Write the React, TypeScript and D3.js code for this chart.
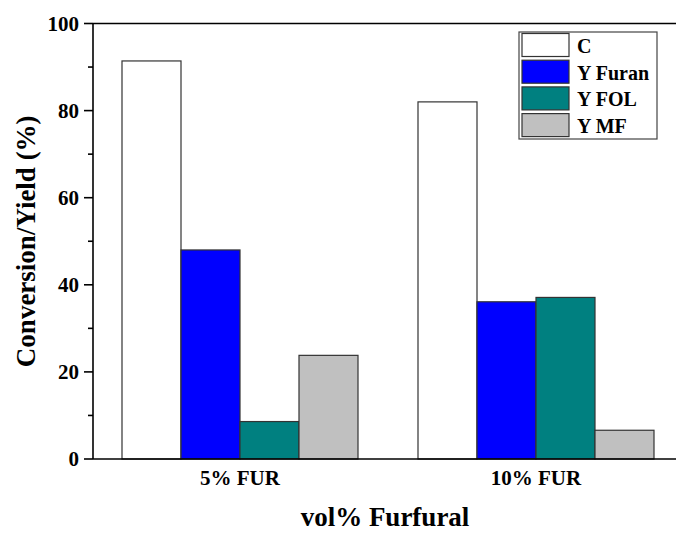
import React, { useEffect, useRef } from "react";
import * as d3 from "d3";

const categories = ["5% FUR", "10% FUR"];
const seriesNames = ["C", "Y Furan", "Y FOL", "Y MF"];
const seriesColors = ["#ffffff", "#0000ff", "#008080", "#c0c0c0"];
const conversion = [91.4, 82.0];
const yFuran = [48.0, 36.1];
const yFol = [8.6, 37.1];
const yMf = [23.8, 6.6];
const yTicks = [0, 20, 40, 60, 80, 100];
const yMinorTicks = [10, 30, 50, 70, 90];

const seriesValues = [conversion, yFuran, yFol, yMf];

export default function App() {
  const svgRef = useRef<SVGSVGElement>(null);

  useEffect(() => {
    const width = 676;
    const height = 534;
    const left = 93;
    const top = 23.5;
    const bottom = 459;

    const svg = d3.select(svgRef.current);
    svg.selectAll("*").remove();
    svg.attr("width", width).attr("height", height);

    const font = "'Liberation Serif', 'Times New Roman', serif";

    const y = d3.scaleLinear().domain([0, 100]).range([bottom, top]);
    const x = d3.scaleBand<string>()
      .domain(categories)
      .range([left, 683])
      .paddingInner(60 / 296)
      .paddingOuter(29 / 296);
    const xs = d3.scaleBand<string>()
      .domain(seriesNames)
      .range([0, x.bandwidth()]);

    // bars
    const groups = svg.append("g")
      .selectAll("g")
      .data(categories)
      .join("g")
      .attr("transform", d => `translate(${x(d)},0)`);

    groups.selectAll("rect")
      .data((c, i) => seriesNames.map((s, k) => ({ s, k, v: seriesValues[k][i] })))
      .join("rect")
      .attr("x", d => xs(d.s)!)
      .attr("y", d => y(d.v))
      .attr("width", xs.bandwidth())
      .attr("height", d => bottom - y(d.v))
      .attr("fill", d => seriesColors[d.k])
      .attr("stroke", "#333")
      .attr("stroke-width", 1.2);

    // axes
    const axisG = svg.append("g").attr("stroke", "#000").attr("stroke-width", 1.6);
    axisG.append("line").attr("x1", left).attr("x2", width).attr("y1", bottom).attr("y2", bottom);
    axisG.append("line").attr("x1", left).attr("x2", width).attr("y1", top).attr("y2", top);
    axisG.append("line").attr("x1", left).attr("x2", left).attr("y1", top).attr("y2", bottom);

    axisG.selectAll(".major")
      .data(yTicks)
      .join("line")
      .attr("x1", left - 9).attr("x2", left)
      .attr("y1", d => y(d)).attr("y2", d => y(d));
    axisG.selectAll(".minor")
      .data(yMinorTicks)
      .join("line")
      .attr("x1", left - 5).attr("x2", left)
      .attr("y1", d => y(d)).attr("y2", d => y(d));

    svg.append("g")
      .selectAll("text")
      .data(yTicks)
      .join("text")
      .attr("x", left - 14)
      .attr("y", d => y(d))
      .attr("dy", "0.35em")
      .attr("text-anchor", "end")
      .attr("font-family", font)
      .attr("font-weight", "bold")
      .attr("font-size", 21)
      .text(d => d);

    svg.append("g")
      .selectAll("text")
      .data(categories)
      .join("text")
      .attr("x", d => x(d)! + x.bandwidth() / 2)
      .attr("y", 485)
      .attr("text-anchor", "middle")
      .attr("font-family", font)
      .attr("font-weight", "bold")
      .attr("font-size", 21)
      .text(d => d);

    svg.append("text")
      .attr("x", 385)
      .attr("y", 526)
      .attr("text-anchor", "middle")
      .attr("font-family", font)
      .attr("font-weight", "bold")
      .attr("font-size", 27)
      .text("vol% Furfural");

    svg.append("text")
      .attr("transform", `translate(35,${(top + bottom) / 2}) rotate(-90)`)
      .attr("text-anchor", "middle")
      .attr("font-family", font)
      .attr("font-weight", "bold")
      .attr("font-size", 27)
      .text("Conversion/Yield (%)");

    // legend
    const lg = svg.append("g").attr("transform", "translate(519,32)");
    lg.append("rect")
      .attr("width", 138).attr("height", 107)
      .attr("fill", "#fff").attr("stroke", "#444").attr("stroke-width", 1.2);
    const rows = lg.selectAll("g.row")
      .data(seriesNames)
      .join("g")
      .attr("transform", (d, i) => `translate(3,${1.5 + i * 26.7})`);
    rows.append("rect")
      .attr("width", 47).attr("height", 23)
      .attr("fill", (d, i) => seriesColors[i])
      .attr("stroke", "#333").attr("stroke-width", 1.2);
    rows.append("text")
      .attr("x", 55).attr("y", 12.5)
      .attr("dy", "0.35em")
      .attr("font-family", font)
      .attr("font-weight", "bold")
      .attr("font-size", 20)
      .text(d => d);
  }, []);

  return <svg ref={svgRef} style={{ position: "absolute", left: 0, top: 0 }}></svg>;
}
